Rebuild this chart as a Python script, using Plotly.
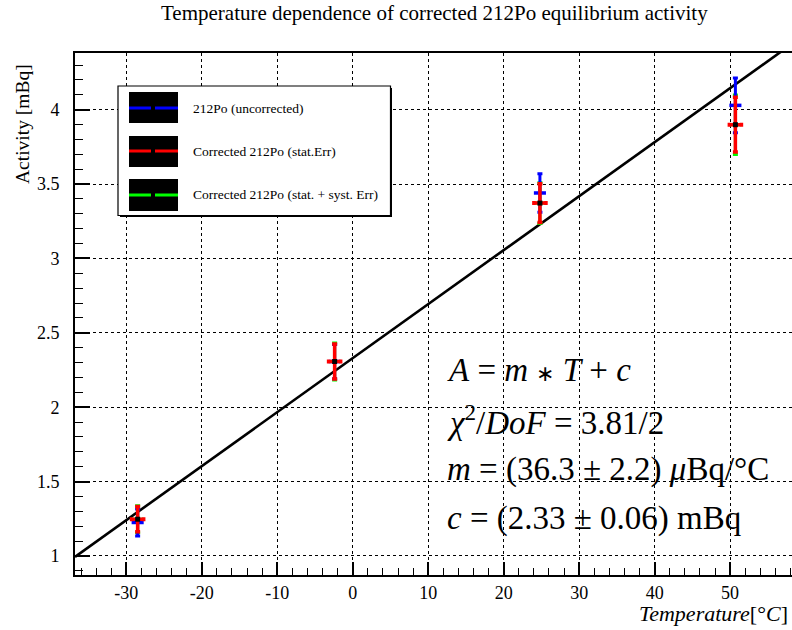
import plotly.graph_objects as go

# ---- data ----
temps = [-28.5, -2.4, 24.8, 50.7]
temp_err = [0.8, 0.8, 0.8, 0.8]
act_uncorr = [1.225, 2.307, 3.44, 4.029]
err_uncorr = [0.09, 0.115, 0.13, 0.184]
act_corr = [1.247, 2.307, 3.372, 3.899]
err_stat = [0.085, 0.118, 0.13, 0.184]
err_tot = [0.091, 0.124, 0.137, 0.2]

fit_m = 0.0363   # mBq / degC
fit_c = 2.33     # mBq
x_range = [-36.8, 58.2]
y_range = [0.872, 4.381]

x_tickvals = [-30, -20, -10, 0, 10, 20, 30, 40, 50]
x_ticktext = ["-30", "-20", "-10", "0", "10", "20", "30", "40", "50"]
y_tickvals = [1, 1.5, 2, 2.5, 3, 3.5, 4]
y_ticktext = ["1", "1.5", "2", "2.5", "3", "3.5", "4"]

legend_labels = ["212Po (uncorrected)", "Corrected 212Po (stat.Err)",
                 "Corrected 212Po (stat. + syst. Err)"]
legend_colors = ["#0000ff", "#ff0000", "#00ff00"]

FONT = "Liberation Serif"
W, H = 792, 630
L, R, T, B = 75, 0, 53, 55
PW, PH = W - L - R, H - T - B


def px(x):
    return (x - L) / PW


def py(y):
    return (H - B - y) / PH


fig = go.Figure()

# fit line
fx = [x_range[0], x_range[1]]
fy = [fit_m * v + fit_c for v in fx]
fig.add_trace(go.Scatter(x=fx, y=fy, mode="lines",
                         line=dict(color="black", width=2.6),
                         hoverinfo="skip", showlegend=False))

# green: stat + syst
fig.add_trace(go.Scatter(
    x=temps, y=act_corr, mode="markers",
    marker=dict(size=1, color="#00ff00"),
    error_y=dict(type="data", array=err_tot, color="#00ff00", thickness=3, width=2.5),
    error_x=dict(type="data", array=temp_err, color="#00ff00", thickness=3, width=0),
    showlegend=False))

# blue: uncorrected
fig.add_trace(go.Scatter(
    x=temps, y=act_uncorr, mode="markers",
    marker=dict(size=1, color="#0000ff"),
    error_y=dict(type="data", array=err_uncorr, color="#0000ff", thickness=3, width=2.5),
    error_x=dict(type="data", array=temp_err, color="#0000ff", thickness=3.5, width=0),
    showlegend=False))

# red: corrected stat
fig.add_trace(go.Scatter(
    x=temps, y=act_corr, mode="markers",
    marker=dict(size=5, color="black", symbol="square"),
    error_y=dict(type="data", array=err_stat, color="#ff0000", thickness=3.5, width=2.5),
    error_x=dict(type="data", array=temp_err, color="#ff0000", thickness=3.5, width=2),
    showlegend=False))

axis_common = dict(showline=True, linecolor="black", linewidth=2,
                   showgrid=True, gridcolor="black", griddash="dot", gridwidth=1,
                   ticks="inside", tickcolor="black", tickwidth=1.5,
                   zeroline=False, tickmode="array",
                   tickfont=dict(family=FONT, size=18, color="black"))

fig.update_xaxes(range=x_range, tickvals=x_tickvals, ticktext=x_ticktext,
                 ticklen=13, mirror=True, ticklabelstandoff=0,
                 minor=dict(tickmode="linear", tick0=0, dtick=2, ticks="inside", ticklen=7,
                            tickcolor="black", tickwidth=1.2, showgrid=False),
                 **axis_common)
fig.update_yaxes(range=y_range, tickvals=y_tickvals, ticktext=y_ticktext,
                 ticklen=15, mirror=False, ticklabelstandoff=10,
                 minor=dict(tickmode="linear", tick0=0, dtick=0.1, ticks="inside", ticklen=8,
                            tickcolor="black", tickwidth=1.2, showgrid=False),
                 **axis_common)

shapes = []
annotations = []

# legend box (with a slight shadow on right / bottom)
shapes.append(dict(type="rect", xref="paper", yref="paper",
                   x0=px(120), x1=px(392), y0=py(217), y1=py(88),
                   line=dict(width=0), fillcolor="black", layer="above"))
shapes.append(dict(type="rect", xref="paper", yref="paper",
                   x0=px(118), x1=px(390.5), y0=py(215.5), y1=py(86),
                   line=dict(color="black", width=1.2), fillcolor="white", layer="above"))
sym_rows = [(92, 123, 108), (136, 167, 151), (179, 211, 195)]
for (y0, y1, yc), col, lab in zip(sym_rows, legend_colors, legend_labels):
    shapes.append(dict(type="rect", xref="paper", yref="paper",
                       x0=px(129), x1=px(178), y0=py(y1), y1=py(y0),
                       line=dict(width=0), fillcolor="black", layer="above"))
    for xa, xb in [(129, 151), (155, 178)]:
        shapes.append(dict(type="line", xref="paper", yref="paper",
                           x0=px(xa), x1=px(xb), y0=py(yc), y1=py(yc),
                           line=dict(color=col, width=3), layer="above"))
    annotations.append(dict(xref="paper", yref="paper", x=px(191), y=py(yc),
                            xanchor="left", yanchor="middle", showarrow=False,
                            text=lab, font=dict(family=FONT, size=13.5, color="black")))

# fit result text
ast = "<span style='font-size:22px'>∗</span>"
fit_lines = ["<i>A</i> = <i>m</i> " + ast + " <i>T</i> + <i>c</i>",
             "<i>χ</i><sup>2</sup>/<i>DoF</i> = 3.81/2",
             "<i>m</i> = (36.3 ± 2.2) <i>μ</i>Bq/°C",
             "<i>c</i> = (2.33 ± 0.06) mBq"]
for txt, yc in zip(fit_lines, [370, 420, 469, 518]):
    annotations.append(dict(xref="paper", yref="paper", x=px(445), y=py(yc),
                            xanchor="left", yanchor="middle", showarrow=False,
                            text=txt, font=dict(family=FONT, size=33, color="black")))

# title and axis titles
annotations.append(dict(xref="paper", yref="paper", x=px(434), y=py(13),
                        xanchor="center", yanchor="middle", showarrow=False,
                        text="Temperature dependence of corrected 212Po equilibrium activity",
                        font=dict(family=FONT, size=21, color="black")))
annotations.append(dict(xref="paper", yref="paper", x=px(790), y=py(613),
                        xanchor="right", yanchor="middle", showarrow=False,
                        text="<i>Temperature</i>[°<i>C</i>]",
                        font=dict(family=FONT, size=22, color="black")))
annotations.append(dict(xref="paper", yref="paper", x=px(22), y=py(62),
                        xanchor="center", yanchor="top", showarrow=False, textangle=-90,
                        text="Activity [mBq]",
                        font=dict(family=FONT, size=19.5, color="black")))

fig.update_layout(width=W, height=H, margin=dict(l=L, r=R, t=T, b=B),
                  paper_bgcolor="white", plot_bgcolor="white",
                  shapes=shapes, annotations=annotations, showlegend=False)

fig.write_html("out.html")
